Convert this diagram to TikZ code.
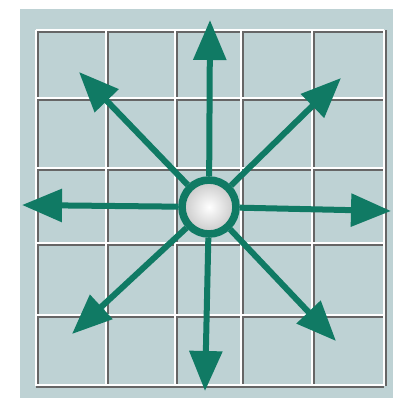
\documentclass[tikz,border=0pt]{standalone}
\usetikzlibrary{arrows.meta}
\definecolor{bgblue}{RGB}{190,210,212}
\definecolor{arrowgreen}{RGB}{16,122,100}
\tikzset{
  gridshadow/.style={draw=black!60, line width=1.2pt},
  gridwhite/.style={draw=white, line width=1.3pt},
  arr/.style={draw=arrowgreen, line width=3pt, -{Triangle[length=20pt,width=16pt]}},
  ball/.style={circle, draw=arrowgreen, line width=3.8pt, minimum size=27pt, inner sep=0pt, inner color=white, outer color=black!22}
}
\begin{document}
\begin{tikzpicture}[x=0.5pt,y=-0.5pt]
\useasboundingbox (0,0) rectangle (396,403);
\fill[white] (0,0) rectangle (396,403);
\fill[bgblue] (20,9) rectangle (393,398);
% grid shadow
\foreach \x in {36,106,175,241,312,384}{\draw[gridshadow] (\x+1.5,30) -- (\x+1.5,386);}
\foreach \y in {30,98,168,243,315,385}{\draw[gridshadow] (36,\y+1.5) -- (384,\y+1.5);}
% grid white
\foreach \x in {36,106,175,241,312,384}{\draw[gridwhite] (\x,30) -- (\x,386);}
\foreach \y in {30,98,168,243,315,385}{\draw[gridwhite] (36,\y) -- (384,\y);}
\node[ball] (c) at (209,207) {};
\coordinate (n) at (210,20);
\coordinate (s) at (205,391);
\coordinate (w) at (22,205);
\coordinate (e) at (391,211);
\coordinate (nw) at (79,72);
\coordinate (ne) at (341,78);
\coordinate (sw) at (72,334);
\coordinate (se) at (336,341);
\foreach \t in {n,s,w,e,nw,ne,sw,se}{\draw[arr] (c) -- (\t);}
\end{tikzpicture}
\end{document}
